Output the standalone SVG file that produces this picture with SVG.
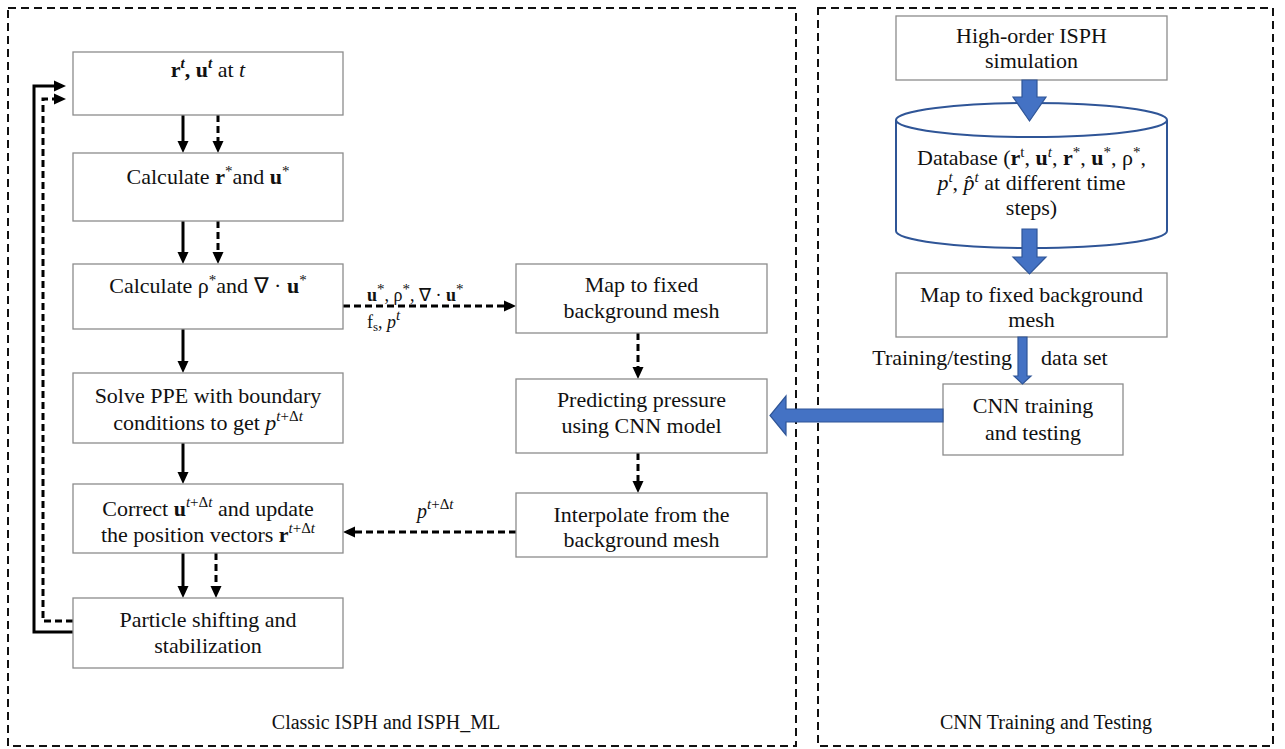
<svg xmlns="http://www.w3.org/2000/svg" width="1285" height="749" viewBox="0 0 1285 749">
<style>
text{font-family:"Liberation Serif","Times New Roman",serif;font-size:22px;fill:#111;}
.t{text-anchor:middle;}
.b{font-weight:bold;}
.i{font-style:italic;}
.sm{font-size:15px;}
.box{fill:#fff;stroke:#8c8c8c;stroke-width:1.3;}
.frame{fill:none;stroke:#111;stroke-width:2;stroke-dasharray:8 5;}
.sol{fill:none;stroke:#000;stroke-width:3;}
.das{fill:none;stroke:#000;stroke-width:3;stroke-dasharray:7 4;}
.blue{fill:#4472c4;stroke:#2f5597;stroke-width:1.2;}
.cyl{fill:#fff;stroke:#2f5597;stroke-width:2;}
.lab{font-size:20px;}
</style>
<defs>
<marker id="ah" markerUnits="userSpaceOnUse" markerWidth="12" markerHeight="12" viewBox="0 0 12 12" refX="8" refY="6" orient="auto">
<path d="M0,0.5 L12,6 L0,11.5 z" fill="#000"/>
</marker>
</defs>

<g id="frames">
<rect class="frame" x="8" y="8" width="788" height="738"/>
<rect class="frame" x="818" y="8" width="455" height="738"/>
<text class="t lab" x="386" y="729">Classic ISPH and ISPH_ML</text>
<text class="t lab" x="1046" y="729">CNN Training and Testing</text>
</g>

<g id="connectors">
<line class="sol" x1="183" y1="115" x2="183" y2="149" marker-end="url(#ah)"/>
<line class="das" x1="218" y1="115" x2="218" y2="149" marker-end="url(#ah)"/>
<line class="sol" x1="183" y1="221" x2="183" y2="260" marker-end="url(#ah)"/>
<line class="das" x1="218" y1="221" x2="218" y2="260" marker-end="url(#ah)"/>
<line class="sol" x1="183" y1="329" x2="183" y2="369" marker-end="url(#ah)"/>
<line class="sol" x1="183" y1="443" x2="183" y2="480" marker-end="url(#ah)"/>
<line class="sol" x1="183" y1="553" x2="183" y2="594" marker-end="url(#ah)"/>
<line class="das" x1="216" y1="553" x2="216" y2="594" marker-end="url(#ah)"/>
<path class="sol" d="M73,632 H34 V86 H62" marker-end="url(#ah)"/>
<path class="das" d="M73,621 H43 V99 H62" marker-end="url(#ah)"/>
<line class="das" x1="343" y1="306" x2="512" y2="306" marker-end="url(#ah)"/>
<line class="das" x1="638" y1="333" x2="638" y2="375" marker-end="url(#ah)"/>
<line class="das" x1="638" y1="453" x2="638" y2="489" marker-end="url(#ah)"/>
<line class="das" x1="516" y1="532" x2="347" y2="532" marker-end="url(#ah)"/>
<text x="367" y="301" style="font-size:18px"><tspan class="b">u</tspan><tspan class="sm" dy="-7">*</tspan><tspan dy="7">, ρ</tspan><tspan class="sm" dy="-7">*</tspan><tspan dy="7">, ∇ · </tspan><tspan class="b">u</tspan><tspan class="sm" dy="-7">*</tspan></text>
<text x="367" y="328" style="font-size:18px">f<tspan style="font-size:13px" dy="3">s</tspan><tspan dy="-3">, </tspan><tspan class="i">p</tspan><tspan class="sm i" dy="-8">t</tspan></text>
<text x="417" y="518" style="font-size:20px"><tspan class="i">p</tspan><tspan class="sm i" dy="-9">t</tspan><tspan class="sm">+Δ</tspan><tspan class="sm i">t</tspan></text>
</g>

<g id="n1">
<rect class="box" x="73" y="52" width="270" height="63"/>
<text class="t" x="208" y="77"><tspan class="b">r</tspan><tspan class="sm b i" dy="-9">t</tspan><tspan class="b" dy="9">, u</tspan><tspan class="sm b i" dy="-9">t</tspan><tspan dy="9"> at </tspan><tspan class="i">t</tspan></text>
</g>
<g id="n2">
<rect class="box" x="73" y="153" width="270" height="68"/>
<text class="t" x="208" y="184">Calculate <tspan class="b">r</tspan><tspan class="sm" dy="-8">*</tspan><tspan dy="8">and </tspan><tspan class="b">u</tspan><tspan class="sm" dy="-8">*</tspan></text>
</g>
<g id="n3">
<rect class="box" x="73" y="264" width="270" height="65"/>
<text class="t" x="208" y="293">Calculate ρ<tspan class="sm" dy="-8">*</tspan><tspan dy="8">and ∇ · </tspan><tspan class="b">u</tspan><tspan class="sm" dy="-8">*</tspan></text>
</g>
<g id="n4">
<rect class="box" x="73" y="373" width="270" height="70"/>
<text class="t" x="208" y="403">Solve PPE with boundary</text>
<text class="t" x="208" y="430">conditions to get <tspan class="i">p</tspan><tspan class="sm i" dy="-9">t</tspan><tspan class="sm">+Δ</tspan><tspan class="sm i">t</tspan></text>
</g>
<g id="n5">
<rect class="box" x="73" y="484" width="270" height="69"/>
<text class="t" x="208" y="516">Correct <tspan class="b">u</tspan><tspan class="sm i" dy="-9">t</tspan><tspan class="sm">+Δ</tspan><tspan class="sm i">t</tspan><tspan dy="9"> and update</tspan></text>
<text class="t" x="208" y="542">the position vectors <tspan class="b">r</tspan><tspan class="sm i" dy="-9">t</tspan><tspan class="sm">+Δ</tspan><tspan class="sm i">t</tspan></text>
</g>
<g id="n6">
<rect class="box" x="73" y="598" width="270" height="70"/>
<text class="t" x="208" y="627">Particle shifting and</text>
<text class="t" x="208" y="653">stabilization</text>
</g>

<g id="m1">
<rect class="box" x="516" y="264" width="251" height="69"/>
<text class="t" x="641.5" y="292">Map to fixed</text>
<text class="t" x="641.5" y="318">background mesh</text>
</g>
<g id="m2">
<rect class="box" x="516" y="379" width="251" height="74"/>
<text class="t" x="641.5" y="407">Predicting pressure</text>
<text class="t" x="641.5" y="433">using CNN model</text>
</g>
<g id="m3">
<rect class="box" x="516" y="493" width="251" height="64"/>
<text class="t" x="641.5" y="522">Interpolate from the</text>
<text class="t" x="641.5" y="547">background mesh</text>
</g>

<g id="r1">
<rect class="box" x="896" y="16" width="271" height="64"/>
<text class="t" x="1031.5" y="43">High-order ISPH</text>
<text class="t" x="1031.5" y="68">simulation</text>
</g>
<g id="r2">
<path class="cyl" d="M896,120 V231 A135.5,17 0 0 0 1167,231 V120"/>
<ellipse class="cyl" cx="1031.5" cy="120" rx="135.5" ry="17"/>
<text class="t" x="1031.5" y="165">Database (<tspan class="b">r</tspan><tspan class="sm" dy="-8">t</tspan><tspan dy="8">, </tspan><tspan class="b">u</tspan><tspan class="sm i" dy="-8">t</tspan><tspan dy="8">, </tspan><tspan class="b">r</tspan><tspan class="sm" dy="-8">*</tspan><tspan dy="8">, </tspan><tspan class="b">u</tspan><tspan class="sm" dy="-8">*</tspan><tspan dy="8">, ρ</tspan><tspan class="sm" dy="-8">*</tspan><tspan dy="8">,</tspan></text>
<text class="t" x="1031.5" y="190"><tspan class="i">p</tspan><tspan class="sm i" dy="-8">t</tspan><tspan dy="8">, </tspan><tspan class="i">p&#x302;</tspan><tspan class="sm i" dy="-8">t</tspan><tspan dy="8"> at different time</tspan></text>
<text class="t" x="1031.5" y="215">steps)</text>
</g>
<g id="r3">
<rect class="box" x="896" y="273" width="271" height="64"/>
<text class="t" x="1031.5" y="302">Map to fixed background</text>
<text class="t" x="1031.5" y="327">mesh</text>
</g>
<g id="r4">
<rect class="box" x="943" y="384" width="180" height="71"/>
<text class="t" x="1033" y="413">CNN training</text>
<text class="t" x="1033" y="440">and testing</text>
</g>

<g id="blue-arrows">
<polygon class="blue" points="1022,80 1037,80 1037,97 1046,97 1029.5,121 1013,97 1022,97"/>
<polygon class="blue" points="1022,229 1037,229 1037,257 1046,257 1029.5,274 1013,257 1022,257"/>
<polygon class="blue" points="1018,337 1027,337 1027,376 1031,376 1022.5,384 1014,376 1018,376"/>
<polygon class="blue" points="943,409 786,409 786,396 770,415.5 786,435 786,422 943,422"/>
<text x="1012" y="365" style="text-anchor:end">Training/testing</text>
<text x="1041" y="365">data set</text>
</g>
</svg>
